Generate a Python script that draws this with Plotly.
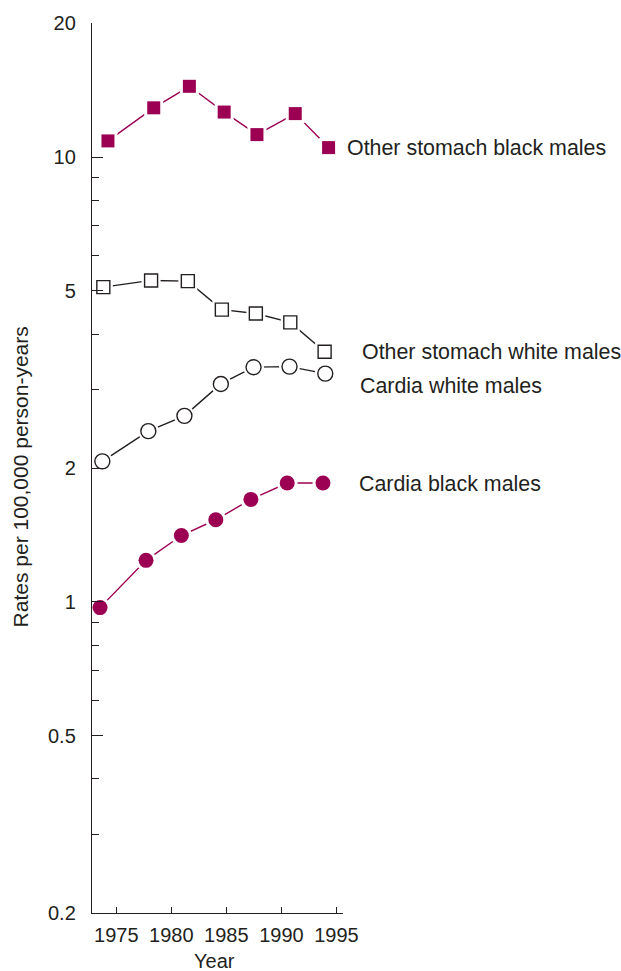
import math
import plotly.graph_objects as go

# ---- data ----
series_names = ["Other stomach black males", "Other stomach white males",
                "Cardia white males", "Cardia black males"]
years_osb = [1974.24, 1978.40, 1981.64, 1984.80, 1987.78, 1991.26, 1994.29]
rates_osb = [10.87, 12.9, 14.42, 12.62, 11.23, 12.52, 10.5]
years_osw = [1973.82, 1978.16, 1981.50, 1984.59, 1987.68, 1990.81, 1993.93]
rates_osw = [5.10, 5.28, 5.26, 4.54, 4.45, 4.25, 3.65]
years_cw = [1973.73, 1977.91, 1981.19, 1984.50, 1987.47, 1990.74, 1993.99]
rates_cw = [2.07, 2.42, 2.62, 3.09, 3.37, 3.38, 3.26]
years_cb = [1973.52, 1977.70, 1980.91, 1984.04, 1987.23, 1990.53, 1993.78]
rates_cb = [0.971, 1.24, 1.41, 1.53, 1.70, 1.85, 1.85]

x_ticks = [1975, 1980, 1985, 1990, 1995]
y_ticks = [0.2, 0.5, 1, 2, 5, 10, 20]
y_tick_labels = ["0.2", "0.5", "1", "2", "5", "10", "20"]
y_minor = [0.3, 0.4, 0.6, 0.7, 0.8, 0.9, 3, 4, 6, 7, 8, 9]

# ---- styles ----
MAG = "#9C0052"
INK = "#231F20"
FONT = "Liberation Sans, Arial, sans-serif"

styles = [
    dict(symbol="square", color=MAG, fill=MAG, lw=0, size=13, line=MAG),
    dict(symbol="square", color=INK, fill="white", lw=1.4, size=13, line=INK),
    dict(symbol="circle", color=INK, fill="white", lw=1.4, size=15, line=INK),
    dict(symbol="circle", color=MAG, fill=MAG, lw=0, size=15, line=MAG),
]
data = [(years_osb, rates_osb), (years_osw, rates_osw),
        (years_cw, rates_cw), (years_cb, rates_cb)]

fig = go.Figure()
for (xs, ys), st, name in zip(data, styles, series_names):
    fig.add_trace(go.Scatter(x=xs, y=ys, mode="lines", name=name,
                             line=dict(color=st["line"], width=1.4),
                             showlegend=False, hoverinfo="skip"))
    fig.add_trace(go.Scatter(x=xs, y=ys, mode="markers",
                             marker=dict(symbol=st["symbol"], size=st["size"] + 6,
                                         color="white", line=dict(width=0)),
                             showlegend=False, hoverinfo="skip"))
    fig.add_trace(go.Scatter(x=xs, y=ys, mode="markers", name=name,
                             marker=dict(symbol=st["symbol"], size=st["size"],
                                         color=st["fill"],
                                         line=dict(color=st["color"], width=st["lw"])),
                             showlegend=False))

# series labels at right
label_pos = [(1.006, 10.5), (1.066, 3.65), (1.058, 3.05), (1.054, 1.84)]
for name, (px, yv) in zip(series_names, label_pos):
    fig.add_annotation(text=name, xref="paper", yref="y", x=px, y=math.log10(yv),
                       xanchor="left", yanchor="middle", showarrow=False,
                       font=dict(family=FONT, size=21.4, color=INK))

# axis titles
fig.add_annotation(text="Rates per 100,000 person-years", xref="paper", yref="paper",
                   x=-0.287, y=0.4905, textangle=-90, xanchor="center", yanchor="middle",
                   showarrow=False, font=dict(family=FONT, size=21, color=INK))
fig.add_annotation(text="Year", xref="paper", yref="paper", x=0.4866, y=-0.0544,
                   xanchor="center", yanchor="middle", showarrow=False,
                   font=dict(family=FONT, size=20, color=INK))

fig.update_xaxes(range=[1972.79, 1995.60], tickvals=x_ticks,
                 ticktext=[str(v) for v in x_ticks], ticks="inside", ticklen=6,
                 tickwidth=1.3, tickcolor=INK, showline=True, linecolor=INK,
                 linewidth=1.4, showgrid=False, zeroline=False,
                 tickfont=dict(family=FONT, size=20, color=INK),
                 ticklabelstandoff=4)
fig.update_yaxes(type="log", range=[math.log10(0.1999), math.log10(20.01)],
                 tickvals=y_ticks, ticktext=y_tick_labels, ticks="inside",
                 ticklen=11, tickwidth=1.3, tickcolor=INK, showline=True,
                 linecolor=INK, linewidth=1.4, showgrid=False, zeroline=False,
                 tickfont=dict(family=FONT, size=20, color=INK),
                 ticklabelstandoff=11,
                 minor=dict(tickvals=y_minor, ticks="inside", ticklen=7,
                            tickwidth=1.3, tickcolor=INK, showgrid=False))

fig.update_layout(width=621, height=971, margin=dict(l=92, r=278, t=18, b=58),
                  paper_bgcolor="white", plot_bgcolor="white", showlegend=False)

# pin the figure to the window's top-left corner (no default body margin)
fig.write_html("out.html", config={"displayModeBar": False},
               post_script="document.body.style.margin='0';"
                           "document.body.style.overflow='hidden';"
                           "var gd=document.getElementById('{plot_id}');"
                           "gd.style.position='absolute';gd.style.top='0px';"
                           "gd.style.left='0px';")
